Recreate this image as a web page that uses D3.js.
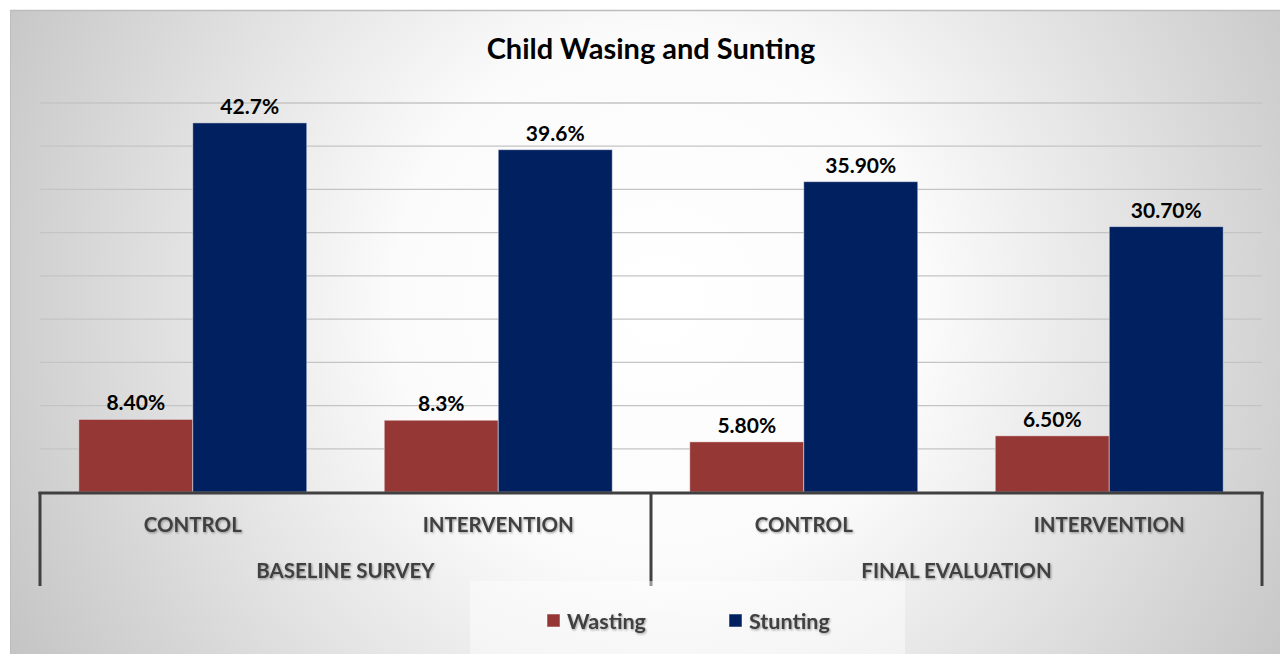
<!DOCTYPE html>
<html>
<head>
<meta charset="utf-8">
<script src="https://cdn.jsdelivr.net/npm/d3@7"></script>
<style>
  html, body { margin: 0; padding: 0; background: #ffffff; }
  svg { display: block; font-family: Lato, "Open Sans", sans-serif; }
</style>
</head>
<body>
<svg id="chart" width="1280" height="654"></svg>
<script>
// Survey rounds and study arms
const groups = ["BASELINE SURVEY", "FINAL EVALUATION"];
const arms = ["CONTROL", "INTERVENTION"];
const seriesNames = ["Wasting", "Stunting"];

// Prevalence (%) per round/arm, in order: baseline control, baseline intervention, final control, final intervention
const wasting = [8.4, 8.3, 5.8, 6.5];
const stunting = [42.7, 39.6, 35.9, 30.7];

// Label text as printed on the bars
const wastingLabels = ["8.40%", "8.3%", "5.80%", "6.50%"];
const stuntingLabels = ["42.7%", "39.6%", "35.90%", "30.70%"];

// Gridline values
const gridTicks = [5, 10, 15, 20, 25, 30, 35, 40, 45];

const colors = { Wasting: "#953735", Stunting: "#002060" };

const svg = d3.select("#chart");
const defs = svg.append("defs");

// Soft radial background: bright centre fading to grey edges
const bg = defs.append("radialGradient")
  .attr("id", "bgGrad")
  .attr("gradientUnits", "userSpaceOnUse")
  .attr("cx", 660).attr("cy", 300).attr("r", 760);
bg.append("stop").attr("offset", "0%").attr("stop-color", "#ffffff");
bg.append("stop").attr("offset", "35%").attr("stop-color", "#fbfbfb");
bg.append("stop").attr("offset", "100%").attr("stop-color", "#c2c2c2");

const shadow = defs.append("filter").attr("id", "txtShadow")
  .attr("x", "-10%").attr("y", "-30%").attr("width", "120%").attr("height", "160%");
shadow.append("feDropShadow")
  .attr("dx", 1).attr("dy", 1.2).attr("stdDeviation", 0.9)
  .attr("flood-color", "#000").attr("flood-opacity", 0.35);

// Chart area
svg.append("rect")
  .attr("x", 10).attr("y", 10).attr("width", 1270).attr("height", 644)
  .attr("fill", "url(#bgGrad)");
svg.append("line")
  .attr("x1", 10).attr("x2", 1280).attr("y1", 10.5).attr("y2", 10.5)
  .attr("stroke", "#bdbdbd").attr("stroke-width", 1.5);
svg.append("line")
  .attr("x1", 10.5).attr("x2", 10.5).attr("y1", 10).attr("y2", 654)
  .attr("stroke", "#bdbdbd").attr("stroke-width", 1);

// Title
svg.append("text")
  .attr("x", 651).attr("y", 59)
  .attr("text-anchor", "middle")
  .attr("font-size", 29).attr("font-weight", 700).attr("fill", "#000")
  .text("Child Wasing and Sunting");

// Scales
const plotLeft = 40, plotRight = 1262, baseY = 492;
const keys = [];
groups.forEach(g => arms.forEach(a => keys.push(g + "|" + a)));

const x0 = d3.scaleBand().domain(keys).range([plotLeft, plotRight]).paddingInner(0).paddingOuter(0);
const x1 = d3.scaleBand().domain(seriesNames).range([0, x0.bandwidth()]).paddingInner(0).paddingOuter(0.34);
const y = d3.scaleLinear().domain([0, 45]).range([baseY, 103]);

// Horizontal gridlines
svg.append("g").selectAll("line").data(gridTicks).join("line")
  .attr("x1", plotLeft).attr("x2", plotRight)
  .attr("y1", d => y(d)).attr("y2", d => y(d))
  .attr("stroke", "#c4c4c4").attr("stroke-width", 1.3);

// Bars
const rows = keys.map((k, i) => ({
  key: k,
  values: [
    { s: "Wasting", v: wasting[i], label: wastingLabels[i] },
    { s: "Stunting", v: stunting[i], label: stuntingLabels[i] }
  ]
}));

const catG = svg.append("g").selectAll("g").data(rows).join("g")
  .attr("transform", d => `translate(${x0(d.key)},0)`);

catG.selectAll("rect").data(d => d.values).join("rect")
  .attr("x", d => x1(d.s))
  .attr("width", x1.bandwidth())
  .attr("y", d => y(d.v))
  .attr("height", d => baseY - y(d.v))
  .attr("fill", d => colors[d.s])
  .attr("stroke", "rgba(255,255,255,0.45)")
  .attr("stroke-width", 1);

catG.selectAll("text").data(d => d.values).join("text")
  .attr("x", d => x1(d.s) + x1.bandwidth() / 2)
  .attr("y", d => y(d.v) - 9)
  .attr("text-anchor", "middle")
  .attr("font-size", 21).attr("font-weight", 700).attr("fill", "#000")
  .text(d => d.label);

// Category axis: baseline and group separators
const axisG = svg.append("g");
axisG.append("line")
  .attr("x1", plotLeft - 1.5).attr("x2", plotRight + 1.5)
  .attr("y1", baseY + 1).attr("y2", baseY + 1)
  .attr("stroke", "#404040").attr("stroke-width", 3);

const groupScale = d3.scaleBand().domain(groups).range([plotLeft, plotRight]);
const seps = [plotLeft].concat(groups.map(g => groupScale(g) + groupScale.bandwidth()));
axisG.selectAll("line.sep").data(seps).join("line")
  .attr("class", "sep")
  .attr("x1", d => d).attr("x2", d => d)
  .attr("y1", baseY).attr("y2", 586)
  .attr("stroke", "#404040").attr("stroke-width", 3);

// Arm labels
axisG.selectAll("text.arm").data(keys).join("text")
  .attr("class", "arm")
  .attr("x", d => x0(d) + x0.bandwidth() / 2)
  .attr("y", 532)
  .attr("text-anchor", "middle")
  .attr("font-size", 20.5).attr("font-weight", 700).attr("fill", "#404040")
  .attr("filter", "url(#txtShadow)")
  .text(d => d.split("|")[1]);

// Survey round labels
axisG.selectAll("text.grp").data(groups).join("text")
  .attr("class", "grp")
  .attr("x", d => groupScale(d) + groupScale.bandwidth() / 2)
  .attr("y", 578)
  .attr("text-anchor", "middle")
  .attr("font-size", 20.5).attr("font-weight", 700).attr("fill", "#404040")
  .attr("filter", "url(#txtShadow)")
  .text(d => d);

// Legend
svg.append("rect")
  .attr("x", 470).attr("y", 581).attr("width", 435).attr("height", 73)
  .attr("fill", "#ffffff").attr("opacity", 0.45);

const legendX = d3.scaleOrdinal().domain(seriesNames).range([547, 729]);
const legend = svg.append("g").selectAll("g").data(seriesNames).join("g")
  .attr("transform", d => `translate(${legendX(d)},614)`);
legend.append("rect")
  .attr("width", 13).attr("height", 13)
  .attr("fill", d => colors[d])
  .attr("stroke", "rgba(255,255,255,0.5)").attr("stroke-width", 1);
legend.append("text")
  .attr("x", 20).attr("y", 14.5)
  .attr("font-size", 21.5).attr("font-weight", 700).attr("fill", "#404040")
  .attr("filter", "url(#txtShadow)")
  .text(d => d);
</script>
</body>
</html>
